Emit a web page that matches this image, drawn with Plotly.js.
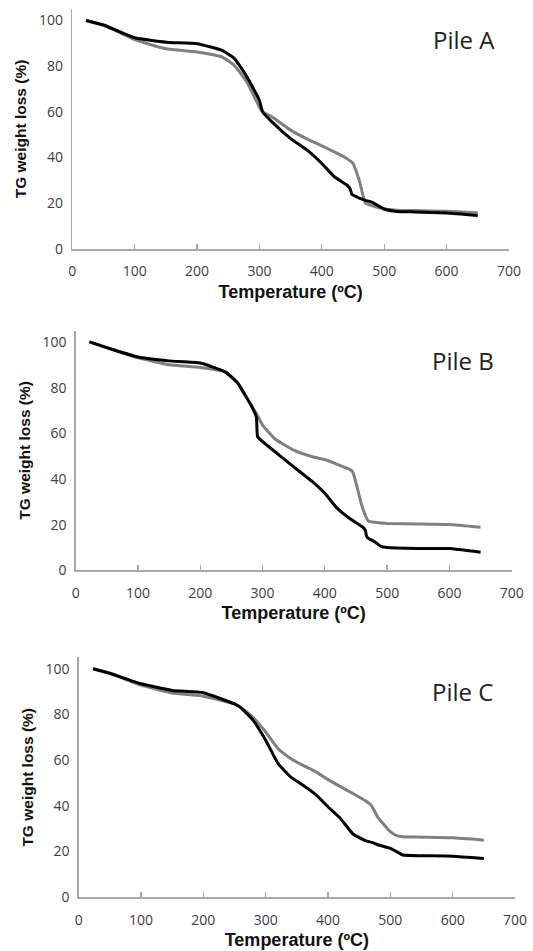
<!DOCTYPE html>
<html><head><meta charset="utf-8">
<script src="https://cdn.plot.ly/plotly-3.0.1.min.js"></script>
<style>html,body{margin:0;padding:0;background:#fff}#chart{width:533px;height:951px}</style>
</head><body><div id="chart"></div>
<script>
// Pile A
const tempA_black = [22,50,100,150,200,240,260,280,300,305,320,350,380,400,420,440,445,448,450,460,470,480,500,520,550,600,650];
const wA_black    = [100,98,92.4,90.5,89.8,86.9,83.3,75.3,65,60,55.6,48.3,42.5,37.4,31.6,28,26.5,24,23.6,22.3,21.3,20.5,17.5,16.4,16.2,15.7,14.6];
const tempA_gray  = [22,50,100,150,200,240,260,280,300,305,320,350,380,400,420,440,450,460,470,480,500,520,550,600,650];
const wA_gray     = [100,98,91.6,87.6,86.2,84,80.3,73,62,60,57.8,52,47.6,45.1,42.5,39.6,37.4,30,20,19,17.5,17,16.8,16.5,15.9];
// Pile B
const tempB_black = [22,50,100,150,200,240,260,280,290,292,300,320,350,380,400,420,440,460,465,467,470,480,490,500,550,600,650];
const wB_black    = [100,97.5,93.4,91.7,90.8,86.9,82,73,67.2,58.5,56.3,51.9,45.3,38.8,33.7,27.1,22.7,19.1,17.5,15,14,12.5,10.5,10,9.6,9.5,7.9];
const tempB_gray  = [22,50,100,150,200,240,260,280,290,300,320,350,380,400,420,440,445,460,470,480,490,500,550,600,650];
const wB_gray     = [100,97.5,93,90,88.8,86.9,82,73,68.7,63.6,57.5,52.6,49.7,48.5,46.4,44.2,43,27.8,21.5,21,20.7,20.5,20.3,20,18.8];
// Pile C
const tempC_black = [23,50,100,150,200,250,260,280,300,320,340,360,380,400,420,440,460,470,480,500,510,520,550,600,650];
const wC_black    = [100,98,93.4,90.5,89.5,84.6,83,77.4,68.7,58.5,52.7,49,45,39.6,34.5,27.7,24.8,24,23,21.4,20,18.5,18.2,18,17];
const tempC_gray  = [23,50,100,150,200,250,260,280,300,320,340,360,380,400,420,440,460,470,480,500,510,520,550,600,650];
const wC_gray     = [100,98,92.8,89.4,88,84.6,83,78.6,72.3,65,60.7,57.7,55,51.5,48.4,45.4,42.2,40,35,28.7,27,26.5,26.3,26,25];

const xTickVals = [0,100,200,300,400,500,600,700];
const yTickVals = [0,20,40,60,80,100];
const labels = ['Pile A','Pile B','Pile C'];

const GRAY = '#808080', BLACK = '#000000';
function tr(x,y,c,i){return {x:x,y:y,type:'scatter',mode:'lines',line:{color:c,width:3,shape:'spline',smoothing:0.4},xaxis:'x'+(i?i+1:''),yaxis:'y'+(i?i+1:''),hoverinfo:'skip',showlegend:false};}
const data = [
  tr(tempA_gray,wA_gray,GRAY,0), tr(tempA_black,wA_black,BLACK,0),
  tr(tempB_gray,wB_gray,GRAY,1), tr(tempB_black,wB_black,BLACK,1),
  tr(tempC_gray,wC_gray,GRAY,2), tr(tempC_black,wC_black,BLACK,2)
];
const W=533,H=951;
const boxes = [ // [left,right,top,bottom] in px
  [72.3,509,9,249],[75.7,511.7,330.5,570.3],[78.7,515,657.3,897.3]
];
const labelPos = [[464,40],[463,360],[462,691]];
const tickFont = {family:'Open Sans, Liberation Sans, sans-serif',size:14,color:'#404040'};
const xTitleFont = {family:'Liberation Sans, Arial, sans-serif',size:18,color:'#111',weight:'bold'};
const yTitleFont = {family:'Liberation Sans, Arial, sans-serif',size:15.5,color:'#111',weight:'bold'};
const AX = '#a8a8a8';
const layout = {width:W,height:H,margin:{l:0,r:0,t:0,b:0},paper_bgcolor:'#fff',plot_bgcolor:'#fff',showlegend:false,annotations:[]};
boxes.forEach((b,i)=>{
  const s = i?String(i+1):'';
  layout['xaxis'+s] = {domain:[b[0]/W,b[1]/W],anchor:'y'+s,range:[0,700],tickvals:xTickVals,ticks:'inside',ticklen:5,tickcolor:AX,tickwidth:1.3,
    showline:true,linecolor:AX,linewidth:1.5,showgrid:false,zeroline:false,tickfont:tickFont,ticklabelstandoff:9,
    title:{text:'Temperature (ºC)',font:xTitleFont,standoff:6}};
  layout['yaxis'+s] = {domain:[1-b[3]/H,1-b[2]/H],anchor:'x'+s,range:[0,105],tickvals:yTickVals,ticks:'',
    showline:true,linecolor:AX,linewidth:1.5,showgrid:false,zeroline:false,tickfont:tickFont,ticklabelstandoff:5,
    title:{text:'TG weight loss (%)',font:yTitleFont,standoff:8}};
  layout.annotations.push({text:labels[i],xref:'paper',yref:'paper',x:labelPos[i][0]/W,y:1-labelPos[i][1]/H,
    xanchor:'center',yanchor:'middle',showarrow:false,font:{family:'Open Sans, sans-serif',size:24,color:'#222'}});
});
Plotly.newPlot('chart',data,layout,{staticPlot:true,displayModeBar:false});
</script></body></html>
